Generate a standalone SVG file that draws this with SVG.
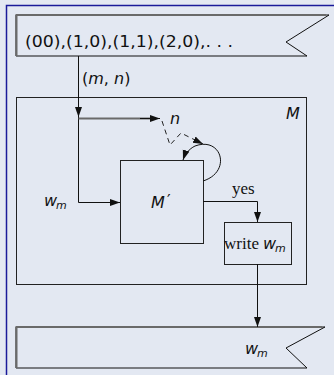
<svg xmlns="http://www.w3.org/2000/svg" width="334" height="375" viewBox="0 0 334 375">
<defs>
<style>
.box{fill:none;stroke:#222;stroke-width:1}
.sh{fill:none;stroke:#6a6a6a;stroke-width:2}
.ln{fill:none;stroke:#111;stroke-width:1}
.dash{fill:none;stroke:#222;stroke-width:1;stroke-dasharray:5,4}
.m{font-family:"DejaVu Sans",sans-serif;font-style:italic;font-size:16px;fill:#111}
.s{font-family:"DejaVu Sans",sans-serif;font-size:16px;fill:#111}
.r{font-family:"Liberation Serif",serif;font-size:17px;fill:#111}
.sub{font-family:"DejaVu Sans",sans-serif;font-style:italic;font-size:11px;fill:#111}
</style>
<marker id="ah" viewBox="0 0 10 10" refX="10" refY="5" markerWidth="10" markerHeight="10" markerUnits="userSpaceOnUse" orient="auto">
<path d="M0,1.5 L10,5 L0,8.5 Z" fill="#111"/>
</marker>
</defs>
<rect x="0" y="0" width="334" height="375" fill="#e3e8f2"/>
<path d="M6.5,375 V5.5 H334" fill="none" stroke="#1a1a9a" stroke-width="1.5"/>
<g id="input-tape">
<path d="M16,56 V15 H329 L286,42 L307,56 Z" fill="none" stroke="#111" stroke-width="1"/>
<path class="sh" d="M16.5,56 V15 H326"/>
<text class="s" x="25" y="47" textLength="208" lengthAdjust="spacingAndGlyphs">(00),(1,0),(1,1),(2,0),. . .</text>
</g>
<g id="M">
<rect class="box" x="16.5" y="97.5" width="290" height="187"/>
<text class="m" x="286" y="119">M</text>
</g>
<g id="Mprime">
<rect class="box" x="120.5" y="160.5" width="83" height="83"/>
<text class="m" x="151" y="208">M</text><text class="s" x="167" y="206" font-size="14">′</text>
</g>
<g id="write">
<rect class="box" x="224.5" y="222.5" width="67" height="42"/>
<text class="r" x="224" y="249">write</text>
<text class="m" x="263" y="249">w</text><text class="sub" x="275" y="252">m</text>
</g>
<g id="output-tape">
<path d="M16,368 V327 H325 L286,348 L307,368 Z" fill="none" stroke="#111" stroke-width="1"/>
<path class="sh" d="M16.5,368 V327 H322"/>
<text class="m" x="245" y="354">w</text><text class="sub" x="257" y="357">m</text>
</g>
<g id="connectors">
<path class="ln" d="M78.5,56 V202.5 H120" marker-end="url(#ah)"/>
<path class="ln" d="M78.5,97 V117" marker-end="url(#ah)"/>
<path class="sh" d="M78.5,118.5 H150" stroke-width="1.5"/>
<path class="ln" d="M140,118.5 H160" marker-end="url(#ah)"/>
<path class="dash" d="M162,121 L170,145 L181,133 L203,144" marker-end="url(#ah)"/>
<path class="ln" d="M203,181 C232,172 222,136 195,146 C189,149 185,154 183,160" marker-end="url(#ah)"/>
<path class="ln" d="M203,201.5 H257.5 V222" marker-end="url(#ah)"/>
<path class="ln" d="M257.5,264 V327" marker-end="url(#ah)"/>
<text x="82" y="84"><tspan class="s">(</tspan><tspan class="m">m</tspan><tspan class="s">, </tspan><tspan class="m">n</tspan><tspan class="s">)</tspan></text>
<text class="m" x="170" y="124">n</text>
<text class="m" x="44" y="206">w</text><text class="sub" x="56" y="209">m</text>
<text class="r" x="232" y="194">yes</text>
</g>
</svg>
